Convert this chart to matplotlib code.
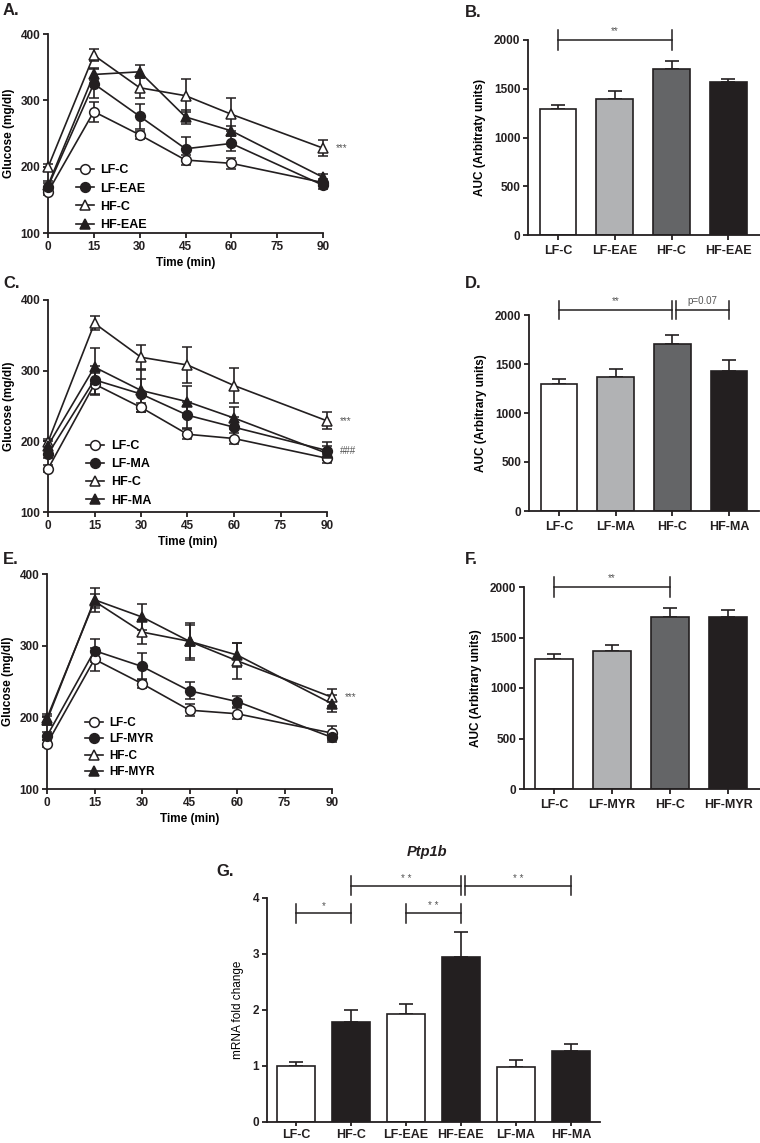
import matplotlib
matplotlib.use('Agg')
import matplotlib.pyplot as plt
from matplotlib.lines import Line2D

plt.rcParams['font.family'] = ['Liberation Sans', 'DejaVu Sans']
plt.rcParams['font.weight'] = 'bold'
plt.rcParams['axes.labelweight'] = 'bold'

K = '#231f20'

# ---------------- data ----------------
time = [0, 15, 30, 45, 60, 90]

# Panel A
a_names = ['LF-C', 'LF-EAE', 'HF-C', 'HF-EAE']
a_lfc = [162, 283, 248, 210, 205, 176]
a_lfc_err = [5, 15, 6, 7, 8, 5]
a_lfeae = [170, 325, 276, 227, 235, 172]
a_lfeae_err = [6, 22, 19, 17, 12, 5]
a_hfc = [199, 368, 319, 307, 279, 228]
a_hfc_err = [5, 9, 15, 25, 25, 12]
a_hfeae = [172, 339, 343, 275, 254, 184]
a_hfeae_err = [6, 9, 10, 10, 8, 5]

# Panel C
c_names = ['LF-C', 'LF-MA', 'HF-C', 'HF-MA']
c_lfc = [161, 281, 248, 210, 204, 176]
c_lfc_err = [5, 15, 6, 7, 8, 6]
c_lfma = [182, 287, 267, 237, 220, 187]
c_lfma_err = [6, 20, 21, 18, 15, 12]
c_hfc = [199, 367, 319, 308, 279, 229]
c_hfc_err = [5, 10, 18, 25, 25, 12]
c_hfma = [194, 305, 272, 256, 233, 183]
c_hfma_err = [6, 27, 30, 22, 16, 10]

# Panel E
e_names = ['LF-C', 'LF-MYR', 'HF-C', 'HF-MYR']
e_lfc = [163, 281, 247, 210, 205, 178]
e_lfc_err = [5, 16, 6, 8, 8, 10]
e_lfmyr = [174, 293, 271, 237, 222, 172]
e_lfmyr_err = [6, 16, 19, 12, 8, 6]
e_hfc = [199, 362, 319, 306, 279, 228]
e_hfc_err = [5, 10, 17, 23, 25, 12]
e_hfmyr = [196, 364, 340, 306, 287, 219]
e_hfmyr_err = [6, 17, 18, 26, 17, 12]

# AUC panels
b_auc = [1290, 1400, 1700, 1565]
b_err = [48, 78, 88, 38]
d_auc = [1292, 1365, 1703, 1432]
d_err = [52, 82, 90, 106]
f_auc = [1290, 1366, 1700, 1706]
f_err = [50, 60, 90, 66]
bar_colors = ['#ffffff', '#b1b2b4', '#646567', K]

# Panel G
g_names = ['LF-C', 'HF-C', 'LF-EAE', 'HF-EAE', 'LF-MA', 'HF-MA']
g_val = [0.99, 1.78, 1.92, 2.95, 0.97, 1.27]
g_err = [0.07, 0.21, 0.19, 0.43, 0.14, 0.12]
g_colors = ['#ffffff', K, '#ffffff', K, '#ffffff', K]

W, H = 760, 1143
fig = plt.figure(figsize=(W / 100, H / 100), dpi=100)


def axes_px(left, top, right, bottom):
    return fig.add_axes([left / W, 1 - bottom / H, (right - left) / W, (bottom - top) / H])


def style(ax, fs=8.5):
    for s in ['top', 'right']:
        ax.spines[s].set_visible(False)
    for s in ['left', 'bottom']:
        ax.spines[s].set_linewidth(1.3)
        ax.spines[s].set_color(K)
    ax.tick_params(width=1.3, length=3.5, labelsize=fs, colors=K, pad=2)


MS = 7


def line_panel(ax, names, series, errs, legend_anchor, leg_fs=9, leg_sp=0.5):
    styles = [('o', 'white'), ('o', K), ('^', 'white'), ('^', K)]
    handles = []
    for (m, fc), y, e, n in zip(styles, series, errs, names):
        ax.errorbar(time, y, yerr=e, fmt='-', marker=m, ms=MS,
                    mfc=fc, mec=K, mew=1.1, color=K, lw=1.2, elinewidth=1.2,
                    capsize=3.6, capthick=1.2, clip_on=False, zorder=3)
        handles.append(Line2D([], [], marker=m, ms=MS, mfc=fc, mec=K, mew=1.1,
                              color=K, lw=1.2, label=n))
    ax.set_xlim(0, 90)
    ax.set_ylim(100, 400)
    ax.set_xticks([0, 15, 30, 45, 60, 75, 90])
    ax.set_yticks([100, 200, 300, 400])
    ax.set_xlabel('Time (min)', fontsize=8.5, labelpad=3)
    ax.set_ylabel('Glucose (mg/dl)', fontsize=8.5, labelpad=4)
    style(ax)
    ax.legend(handles=handles, loc='upper left', bbox_to_anchor=legend_anchor,
              frameon=False, fontsize=leg_fs, handlelength=1.5, handletextpad=0.5,
              labelspacing=leg_sp, borderaxespad=0, borderpad=0)


def bar_panel(ax, names, vals, errs, xlim, ylabel):
    x = list(range(len(names)))
    ax.bar(x, vals, width=0.65, color=bar_colors, edgecolor=K, linewidth=1.2, zorder=2)
    ax.errorbar(x, vals, yerr=[[0] * len(errs), errs], fmt='none', ecolor=K,
                elinewidth=1.2, capsize=5, capthick=1.2, zorder=1)
    ax.set_xlim(*xlim)
    ax.set_ylim(0, 2000)
    ax.set_yticks([0, 500, 1000, 1500, 2000])
    ax.set_xticks(x)
    ax.set_xticklabels(names, fontsize=9)
    ax.set_ylabel(ylabel, fontsize=8.5, labelpad=6)
    style(ax)
    ax.tick_params(axis='x', labelsize=9, pad=4)


def bracket(ax, x0, x1, y, half, text, tfs=7, ty=None, tcolor='#555555'):
    ax.plot([x0, x1], [y, y], color=K, lw=1.1, clip_on=False)
    for xx in (x0, x1):
        ax.plot([xx, xx], [y - half, y + half], color=K, lw=1.1, clip_on=False)
    ax.text((x0 + x1) / 2, y + (ty if ty is not None else half * 0.35), text,
            ha='center', va='bottom', fontsize=tfs, color=tcolor, fontweight='normal')


# ---- Panel A ----
axA = axes_px(48, 34, 323, 233)
line_panel(axA, a_names, [a_lfc, a_lfeae, a_hfc, a_hfeae],
           [a_lfc_err, a_lfeae_err, a_hfc_err, a_hfeae_err], (0.1, 0.345))
axA.annotate('***', (90, a_hfc[-1]), xytext=(9, 0), textcoords='offset points',
             va='center', ha='left', fontsize=7, color='#555555', fontweight='normal')

# ---- Panel C ----
axC = axes_px(48, 300, 327, 512)
line_panel(axC, c_names, [c_lfc, c_lfma, c_hfc, c_hfma],
           [c_lfc_err, c_lfma_err, c_hfc_err, c_hfma_err], (0.135, 0.34))
axC.annotate('***', (90, c_hfc[-1]), xytext=(9, 0), textcoords='offset points',
             va='center', ha='left', fontsize=7, color='#555555', fontweight='normal')
axC.annotate('###', (90, c_lfma[-1]), xytext=(9, 0), textcoords='offset points',
             va='center', ha='left', fontsize=7, color='#555555', fontweight='normal')

# ---- Panel E ----
axE = axes_px(47, 574, 332, 789)
line_panel(axE, e_names, [e_lfc, e_lfmyr, e_hfc, e_hfmyr],
           [e_lfc_err, e_lfmyr_err, e_hfc_err, e_hfmyr_err], (0.135, 0.335),
           leg_fs=8.5, leg_sp=0.38)
axE.annotate('***', (90, e_hfc[-1]), xytext=(9, 0), textcoords='offset points',
             va='center', ha='left', fontsize=7, color='#555555', fontweight='normal')

# ---- Panel B ----
axB = axes_px(528, 40, 760, 235)
bar_panel(axB, a_names, b_auc, b_err, (-0.53, 3.56), 'AUC (Arbitraty units)')
bracket(axB, 0, 2, 2000, 100, '**', ty=40)

# ---- Panel D ----
axD = axes_px(529, 315, 759, 511)
bar_panel(axD, c_names, d_auc, d_err, (-0.53, 3.53), 'AUC (Arbitrary units)')
bracket(axD, 0, 2, 2050, 95, '**', ty=40)
bracket(axD, 2.06, 3, 2050, 95, 'p=0.07', ty=40)

# ---- Panel F ----
axF = axes_px(524, 587, 760, 789)
bar_panel(axF, e_names, f_auc, f_err, (-0.52, 3.55), 'AUC (Arbitrary units)')
bracket(axF, 0, 2, 2000, 100, '**', ty=40)

# ---- Panel G ----
axG = axes_px(266.7, 897.7, 600, 1121.7)
gx = list(range(len(g_names)))
axG.bar(gx, g_val, width=0.69, color=g_colors, edgecolor=K, linewidth=1.2, zorder=2)
axG.errorbar(gx, g_val, yerr=[[0] * len(g_err), g_err], fmt='none', ecolor=K,
             elinewidth=1.2, capsize=5, capthick=1.2, zorder=1)
axG.set_xlim(-0.53, 5.53)
axG.set_ylim(0, 4)
axG.set_yticks([0, 1, 2, 3, 4])
axG.set_xticks(gx)
axG.set_xticklabels(g_names, fontsize=9)
axG.set_ylabel('mRNA fold change', fontsize=8.5, fontweight='normal', labelpad=6)
style(axG)
axG.tick_params(axis='x', labelsize=9, pad=2.5, length=3)
bracket(axG, 0, 1, 3.72, 0.17, '*', ty=0.04)
bracket(axG, 2, 3, 3.72, 0.17, '* *', ty=0.04)
bracket(axG, 1, 3, 4.21, 0.17, '* *', ty=0.04)
bracket(axG, 3.07, 5, 4.21, 0.17, '* *', ty=0.04)

# ---- texts ----
lab = dict(fontsize=12, fontweight='bold', color=K, va='top', ha='left')
fig.text(3 / W, 1 - 3 / H, 'A.', **lab)
fig.text(465 / W, 1 - 5 / H, 'B.', **lab)
fig.text(3 / W, 1 - 276 / H, 'C.', **lab)
fig.text(465 / W, 1 - 276 / H, 'D.', **lab)
fig.text(3 / W, 1 - 552 / H, 'E.', **lab)
fig.text(465 / W, 1 - 552 / H, 'F.', **lab)
fig.text(216 / W, 1 - 864 / H, 'G.', **lab)
fig.text(427 / W, 1 - 852 / H, 'Ptp1b', fontsize=10.5, fontweight='bold',
         fontstyle='italic', color=K, ha='center', va='center')

fig.savefig('out.png', dpi=100)
